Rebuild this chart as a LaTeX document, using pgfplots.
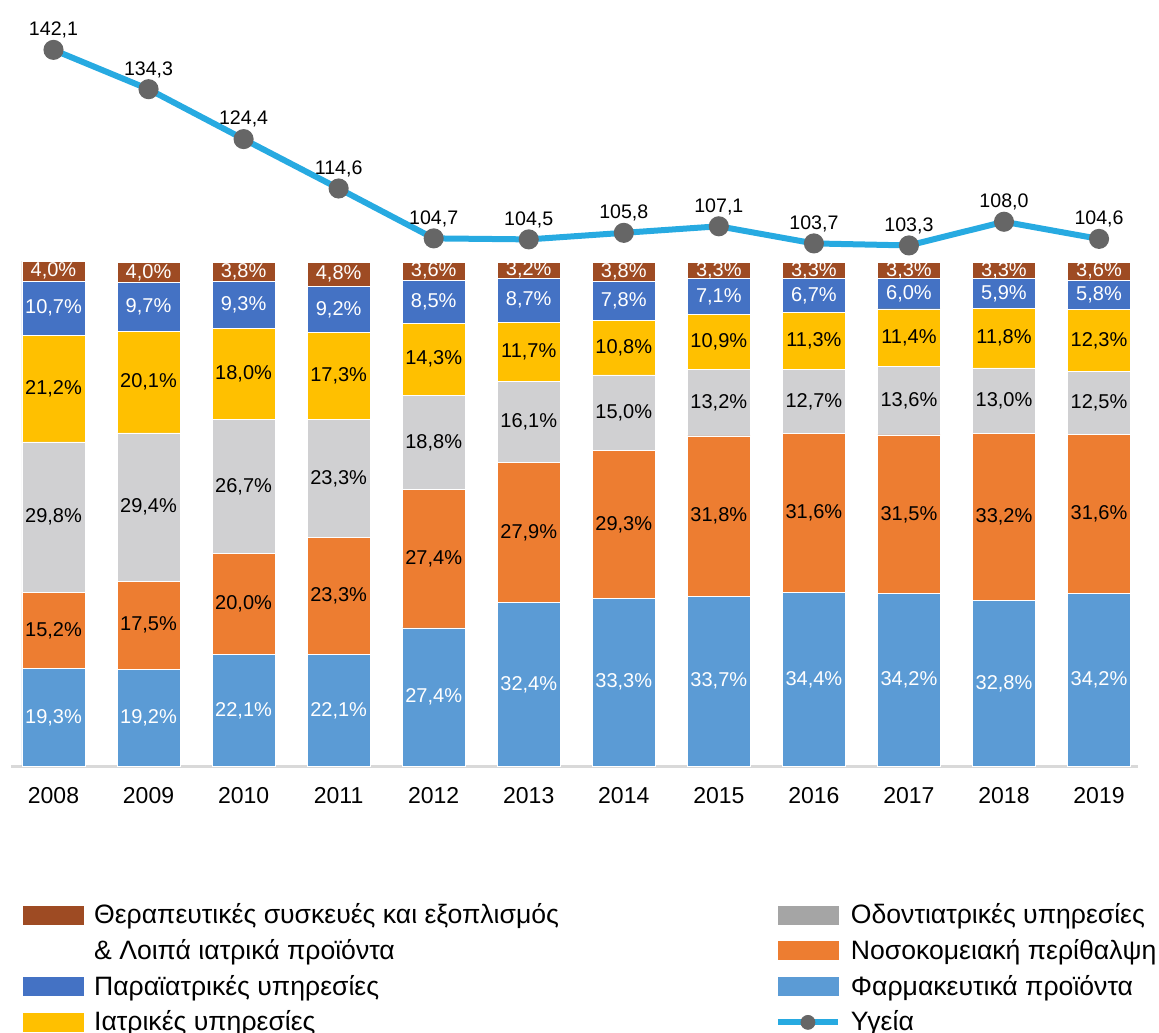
\documentclass[border=0pt]{standalone}
\usepackage{fontspec}
\setmainfont{Liberation Sans}
\usepackage{pgfplots}
\usepackage{pgfplotstable}
\pgfplotsset{compat=1.18}

\definecolor{cFarm}{HTML}{5B9BD5}
\definecolor{cNos}{HTML}{ED7D31}
\definecolor{cOdo}{HTML}{D0D0D2}
\definecolor{cOdoL}{HTML}{A5A5A5}
\definecolor{cIat}{HTML}{FFC000}
\definecolor{cPar}{HTML}{4472C4}
\definecolor{cTher}{HTML}{9E4B23}
\definecolor{cLine}{HTML}{27AAE1}
\definecolor{cMark}{HTML}{666666}

% shares in %, health index in last column
\pgfplotstableread{
yr   f    n    o    i    p    t    h
2008 19.3 15.2 29.8 21.2 10.7 4.0  142.1
2009 19.2 17.5 29.4 20.1 9.7  4.0  134.3
2010 22.1 20.0 26.7 18.0 9.3  3.8  124.4
2011 22.1 23.3 23.3 17.3 9.2  4.8  114.6
2012 27.4 27.4 18.8 14.3 8.5  3.6  104.7
2013 32.4 27.9 16.1 11.7 8.7  3.2  104.5
2014 33.3 29.3 15.0 10.8 7.8  3.8  105.8
2015 33.7 31.8 13.2 10.9 7.1  3.3  107.1
2016 34.4 31.6 12.7 11.3 6.7  3.3  103.7
2017 34.2 31.5 13.6 11.4 6.0  3.3  103.3
2018 32.8 33.2 13.0 11.8 5.9  3.3  108.0
2019 34.2 31.6 12.5 12.3 5.8  3.6  104.6
}\data

\pgfplotsset{
  base/.style={
    x=47.525pt, y=2.52pt,
    xmin=-0.447, xmax=11.41, ymin=0, ymax=152,
    /pgf/number format/.cd, fixed, fixed zerofill, precision=1, use comma,
    assume math mode=true,
  },
  seg/.style={
    draw=none, forget plot, point meta=explicit,
    nodes near coords={\pgfmathprintnumber{\pgfplotspointmeta}\%},
    nodes near coords align={anchor=center},
    every node near coord/.append style={font=\fontsize{10}{11}\selectfont, text=#1},
  },
  sw/.style={legend image code/.code={\fill[#1] (0pt,-4.5pt) rectangle (30pt,4.5pt);}},
}

\begin{document}
\begin{tikzpicture}
\begin{axis}[base, name=ax, ybar stacked, bar width=31.5pt,
  axis x line*=bottom, axis y line=none,
  x axis line style={-, draw=black!15, line width=1.5pt},
  xtick={0,1,2,3,4,5,6,7,8,9,10,11},
  xticklabels={2008,2009,2010,2011,2012,2013,2014,2015,2016,2017,2018,2019},
  major tick length=0pt,
  xticklabel style={font=\fontsize{11.5}{13}\selectfont, yshift=-7pt},
]
\addplot[fill=cFarm, draw=white, line width=0.4pt] table[x expr=\coordindex, y=f]{\data};
\addplot[fill=cNos, draw=white, line width=0.4pt] table[x expr=\coordindex, y=n]{\data};
\addplot[fill=cOdo, draw=white, line width=0.4pt] table[x expr=\coordindex, y=o]{\data};
\addplot[fill=cIat, draw=white, line width=0.4pt] table[x expr=\coordindex, y=i]{\data};
\addplot[fill=cPar, draw=white, line width=0.4pt] table[x expr=\coordindex, y=p]{\data};
\addplot[fill=cTher, draw=white, line width=0.4pt] table[x expr=\coordindex, y=t]{\data};
\end{axis}

\begin{axis}[base, hide axis, clip=false,
  legend columns=2, legend cell align=left,
  legend style={at={(axis description cs:0.0106,-0.171)}, anchor=north west,
    draw=none, fill=none, inner sep=0pt, row sep=0.4pt,
    font=\fontsize{13.3}{15}\selectfont,
    nodes={inner sep=1pt, text height=12pt, text depth=3.5pt},
    /tikz/every odd column/.append style={column sep=4pt},
    /tikz/every even column/.append style={column sep=107pt}},
]
\addplot[seg=white] table[x expr=\coordindex, y expr=\thisrow{f}/2, meta=f]{\data};
\addplot[seg=black] table[x expr=\coordindex, y expr=\thisrow{f}+\thisrow{n}/2, meta=n]{\data};
\addplot[seg=black] table[x expr=\coordindex, y expr=\thisrow{f}+\thisrow{n}+\thisrow{o}/2, meta=o]{\data};
\addplot[seg=black] table[x expr=\coordindex, y expr=\thisrow{f}+\thisrow{n}+\thisrow{o}+\thisrow{i}/2, meta=i]{\data};
\addplot[seg=white] table[x expr=\coordindex, y expr=\thisrow{f}+\thisrow{n}+\thisrow{o}+\thisrow{i}+\thisrow{p}/2, meta=p]{\data};
\addplot[seg=white] table[x expr=\coordindex, y expr=\thisrow{f}+\thisrow{n}+\thisrow{o}+\thisrow{i}+\thisrow{p}+\thisrow{t}/2, meta=t]{\data};
\addplot[cLine, line width=3pt, mark=*, mark size=3.5pt, mark options={fill=cMark, draw=cMark},
  forget plot, point meta=explicit, nodes near coords,
  every node near coord/.append style={font=\fontsize{9.8}{11}\selectfont, text=black, yshift=1pt}]
  table[x expr=\coordindex, y=h, meta=h]{\data};

\addlegendimage{sw=cTher}
\addlegendentry{Θεραπευτικές συσκευές και εξοπλισμός}
\addlegendimage{sw=cOdoL}
\addlegendentry{Οδοντιατρικές υπηρεσίες}
\addlegendimage{empty legend}
\addlegendentry{\& Λοιπά ιατρικά προϊόντα}
\addlegendimage{sw=cNos}
\addlegendentry{Νοσοκομειακή περίθαλψη}
\addlegendimage{sw=cPar}
\addlegendentry{Παραϊατρικές υπηρεσίες}
\addlegendimage{sw=cFarm}
\addlegendentry{Φαρμακευτικά προϊόντα}
\addlegendimage{sw=cIat}
\addlegendentry{Ιατρικές υπηρεσίες}
\addlegendimage{legend image code/.code={\draw[cLine, line width=3pt] (0pt,0pt) -- (30pt,0pt);
  \fill[cMark] (15pt,0pt) circle (3.5pt);}}
\addlegendentry{Υγεία}
\end{axis}
\pgfresetboundingbox
\path ([xshift=-5.5pt]ax.north west) ([xshift=10.5pt,yshift=-133pt]ax.south east);
\end{tikzpicture}
\end{document}
